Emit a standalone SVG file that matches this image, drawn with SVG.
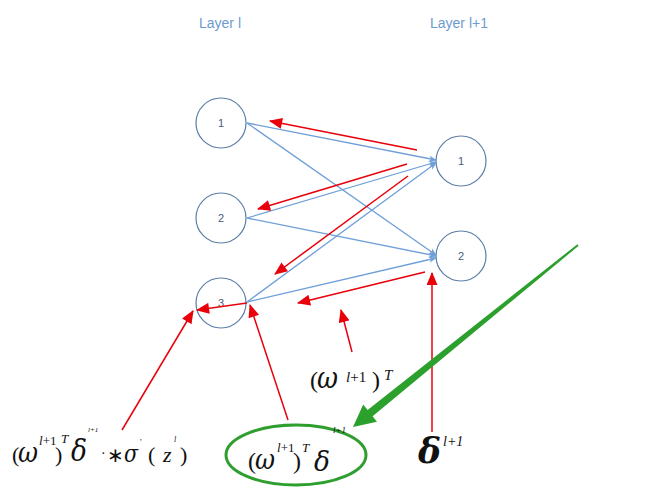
<svg xmlns="http://www.w3.org/2000/svg" width="659" height="490" viewBox="0 0 659 490">
<defs>
<marker id="ab" viewBox="0 0 10 10" refX="9" refY="5" markerWidth="8" markerHeight="8" markerUnits="userSpaceOnUse" orient="auto"><path d="M0,1 L10,5 L0,9 L3,5 Z" fill="#6f9fd8"/></marker>
<marker id="ar" viewBox="0 0 12 10" refX="11" refY="5" markerWidth="14" markerHeight="11" markerUnits="userSpaceOnUse" orient="auto"><path d="M0,0 L12,5 L0,10 Z" fill="#e8000b"/></marker>
<style>
.node circle{fill:#fff;stroke:#5b7ea6;stroke-width:1.2}
.node text{font-family:"Liberation Sans",Arial,sans-serif;font-size:11px;fill:#4a5a78;text-anchor:middle}
.blue{stroke:#6f9fd8;stroke-width:1.3;fill:none;marker-end:url(#ab)}
.red{stroke:#e8000b;stroke-width:1.5;fill:none;marker-end:url(#ar)}
.hdr{font-family:"Liberation Sans",Arial,sans-serif;font-size:14px;fill:#6d9bcf}
.f text{font-family:"Liberation Serif","Times New Roman",serif;fill:#111}
.f .i{font-style:italic}
.f .g{font-family:"DejaVu Serif",serif;font-style:italic}
</style>
</defs>
<rect width="659" height="490" fill="#fff"/>
<text class="hdr" x="199" y="28">Layer l</text>
<text class="hdr" x="430" y="28">Layer l+1</text>
<g id="n1" class="node"><circle cx="221" cy="123" r="25"/><text x="221" y="127">1</text></g>
<g id="n2" class="node"><circle cx="221" cy="218" r="25"/><text x="221" y="222">2</text></g>
<g id="n3" class="node"><circle cx="221" cy="303" r="25"/><text x="221" y="307">3</text></g>
<g id="m1" class="node"><circle cx="461" cy="161" r="25"/><text x="461" y="165">1</text></g>
<g id="m2" class="node"><circle cx="461" cy="256" r="25"/><text x="461" y="260">2</text></g>
<g id="connectors">
<line class="blue" x1="247" y1="123" x2="436" y2="160"/>
<line class="blue" x1="247" y1="123" x2="436" y2="255"/>
<line class="blue" x1="247" y1="218" x2="436" y2="162"/>
<line class="blue" x1="247" y1="218" x2="436" y2="256"/>
<line class="blue" x1="247" y1="302" x2="436" y2="163"/>
<line class="blue" x1="247" y1="302" x2="436" y2="258"/>
<line class="red" x1="417" y1="150" x2="270" y2="121"/>
<line class="red" x1="407" y1="164" x2="258" y2="209"/>
<line class="red" x1="408" y1="176" x2="275" y2="274"/>
<line class="red" x1="425" y1="272" x2="298" y2="303"/>
<line class="red" x1="247" y1="303" x2="197" y2="310"/>
<line class="red" x1="122" y1="430" x2="193" y2="311"/>
<line class="red" x1="288" y1="420" x2="250" y2="305"/>
<line class="red" x1="352" y1="352" x2="341" y2="310"/>
<line class="red" x1="432" y1="432" x2="432" y2="273"/>
<polygon points="578.6,245.8 372.6,416.3 377,421.8 353,427 363.2,404.6 367.6,410.1 577.4,244.2" fill="#2ca02c"/>
</g>
<ellipse cx="296" cy="455" rx="70" ry="30" fill="none" stroke="#2e9e2e" stroke-width="3"/>
<g id="f-top" class="f">
<text x="310" y="388" font-size="24">(</text>
<text x="317" y="388" font-size="29" class="g" textLength="21" lengthAdjust="spacingAndGlyphs">ω</text>
<text x="346" y="382" font-size="15"><tspan class="i">l</tspan>+1</text>
<text x="372" y="388" font-size="24">)</text>
<text x="384" y="380" font-size="15" class="i">T</text>
</g>
<g id="f-left" class="f">
<text x="12" y="462" font-size="22">(</text>
<text x="18" y="462" font-size="27" class="g" textLength="20" lengthAdjust="spacingAndGlyphs">ω</text>
<text x="39" y="445" font-size="13"><tspan class="i">l</tspan>+1</text>
<text x="55" y="462" font-size="22">)</text>
<text x="61" y="443" font-size="13" class="i">T</text>
<text x="71" y="461" font-size="29" class="g" textLength="16" lengthAdjust="spacingAndGlyphs">δ</text>
<text x="88" y="432" font-size="7" class="i">l+1</text>
<text x="101" y="458" font-size="14">·</text>
<text x="107" y="462" font-size="20">∗</text>
<text x="124" y="462" font-size="24" class="g" textLength="14" lengthAdjust="spacingAndGlyphs">σ</text>
<text x="140" y="445" font-size="9">'</text>
<text x="148" y="462" font-size="22">(</text>
<text x="163" y="462" font-size="22" class="i">z</text>
<text x="174" y="442" font-size="8" class="i">l</text>
<text x="180" y="462" font-size="22">)</text>
</g>
<g id="f-mid" class="f">
<text x="248" y="469" font-size="24">(</text>
<text x="255" y="469" font-size="28" class="g" textLength="20" lengthAdjust="spacingAndGlyphs">ω</text>
<text x="277" y="452" font-size="13"><tspan class="i">l</tspan>+1</text>
<text x="293" y="469" font-size="24">)</text>
<text x="302" y="452" font-size="13" class="i">T</text>
<text x="314" y="471" font-size="27" class="g" textLength="16" lengthAdjust="spacingAndGlyphs">δ</text>
<text x="333" y="433" font-size="9" class="i">l+1</text>
</g>
<g id="f-right" class="f">
<text x="418" y="463" font-size="36" class="g" font-weight="bold" textLength="23" lengthAdjust="spacingAndGlyphs">δ</text>
<text x="443" y="446" font-size="14" class="i">l+1</text>
</g>
</svg>
